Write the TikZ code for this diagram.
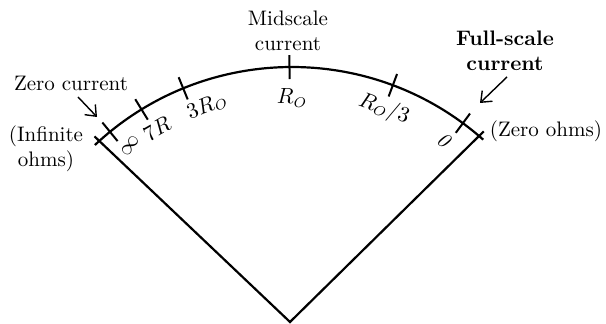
\documentclass[tikz,border=0pt]{standalone}
\usetikzlibrary{arrows.meta, calc}
\tikzset{
  every node/.style = {font=\fontsize{10.5}{12.5}\selectfont},
  omface/.style  = {line width=1.1pt, line join=miter},
  omtick/.style  = {line width=1pt},
  omval/.style   = {inner sep=0pt},
  omnote/.style  = {align=center, inner sep=0pt},
  ompoint/.style = {-{Straight Barb[length=1.6mm,width=2.6mm]}, line width=0.7pt},
}

\begin{document}
\begin{tikzpicture}[x=0.5pt, y=0.5pt]
\useasboundingbox (0,0) rectangle (606,324);

% face of the meter
\coordinate (ctr)  at (292,-31);
\coordinate (apex) at (290,2);
\coordinate (lend) at ($(ctr)+(132:288)$);
\coordinate (rend) at ($(ctr)+(49.5:288)$);
\draw[omface] ($(ctr)+(133.2:288)$) arc[start angle=133.2, end angle=48.4, radius=288];
\draw[omface] ($(apex)!1.025!(lend)$) -- (apex) -- ($(apex)!1.025!(rend)$);

% scale marks
\foreach \a in {129.2, 121.5, 112.2, 90.5, 69.5, 53.6}
  \draw[omtick] ($(ctr)+(\a:276)$) -- ($(ctr)+(\a:300)$);

\node[omval, rotate=55]  (vinf) at (130,178) {$\infty$};
\node[omval, rotate=30]  (v7r)  at (157,195) {$7R$};
\node[omval, rotate=22]  (v3r)  at (207,218) {$3R_O$};
\node[omval]             (vro)  at (292,226) {$R_O$};
\node[omval, rotate=-20] (vro3) at (384,215) {$R_O/3$};
\node[omval, rotate=-36] (vnil) at (444,184) {\textit{0}};

% notes round the scale
\node[omnote] (zc)  at (71,241)  {Zero current};
\node[omnote] (inf) at (46,175)  {(Infinite\\ohms)};
\node[omnote] (mid) at (288,293) {Midscale\\current};
\node[omnote, font=\fontsize{10.5}{12.5}\selectfont\bfseries] (fs) at (505,273) {Full-scale\\current};
\node[omnote] (zo)  at (546,193) {(Zero ohms)};

\coordinate (zcfrom) at (78,227);
\coordinate (zcto)   at (97,207);
\coordinate (fsfrom) at (507,247);
\coordinate (fsto)   at (480,221);
\draw[ompoint] (zcfrom) -- (zcto);
\draw[ompoint] (fsfrom) -- (fsto);
\end{tikzpicture}
\end{document}
